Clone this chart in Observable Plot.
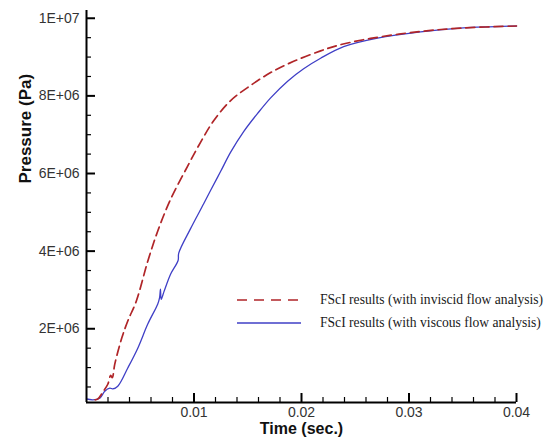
<!DOCTYPE html>
<html>
<head>
<meta charset="utf-8">
<script src="https://cdn.jsdelivr.net/npm/d3@7"></script>
<script src="https://cdn.jsdelivr.net/npm/@observablehq/plot@0.6"></script>
<style>
  html, body { margin: 0; padding: 0; background: #fff; }
  #wrap { position: relative; width: 549px; height: 442px; }
  #legend { position: absolute; left: 0; top: 0; font-family: "Liberation Serif", "Times New Roman", serif; font-size: 13.6px; color: #1a1a1a; }
  .row { position: absolute; display: flex; align-items: center; white-space: nowrap; }
  .row svg { margin-right: 19px; }
</style>
</head>
<body>
<div id="wrap"></div>
<script>
// ---- data ----
const seriesNames = ["FScI results (with inviscid flow analysis)", "FScI results (with viscous flow analysis)"];
const timeInviscid = [0.0008, 0.00105, 0.0015, 0.00198, 0.00225, 0.0024, 0.00263, 0.00328, 0.00384, 0.00463, 0.0057, 0.00663, 0.00783, 0.00941, 0.01062, 0.01183, 0.01341, 0.01527, 0.01713, 0.01927, 0.02178, 0.02336, 0.02642, 0.03107, 0.03507, 0.0400];
const pressInviscid = [0.17e6, 0.19e6, 0.36e6, 0.57e6, 0.80e6, 0.74e6, 1.09e6, 1.76e6, 2.20e6, 2.71e6, 3.74e6, 4.52e6, 5.34e6, 6.19e6, 6.81e6, 7.36e6, 7.88e6, 8.27e6, 8.60e6, 8.89e6, 9.16e6, 9.30e6, 9.48e6, 9.66e6, 9.75e6, 9.80e6];
const timeViscous = [0, 0.0006, 0.00124, 0.0017, 0.00217, 0.00244, 0.00291, 0.00384, 0.00477, 0.0057, 0.00663, 0.0068, 0.00688, 0.00695, 0.0072, 0.00783, 0.00852, 0.00858, 0.00968, 0.0109, 0.01155, 0.01247, 0.01341, 0.01462, 0.01592, 0.01713, 0.01871, 0.0202, 0.02178, 0.02392, 0.02707, 0.03107, 0.03507, 0.0400];
const pressViscous = [0.19e6, 0.17e6, 0.21e6, 0.39e6, 0.47e6, 0.45e6, 0.52e6, 0.99e6, 1.50e6, 2.12e6, 2.64e6, 2.80e6, 3.02e6, 2.76e6, 2.95e6, 3.41e6, 3.76e6, 3.95e6, 4.58e6, 5.22e6, 5.57e6, 6.05e6, 6.55e6, 7.08e6, 7.55e6, 7.95e6, 8.38e6, 8.70e6, 8.97e6, 9.27e6, 9.49e6, 9.65e6, 9.75e6, 9.80e6];
const xDomain = [0, 0.04];
const yDomain = [1e5, 1.02e7];
const xMajorTicks = [0.01, 0.02, 0.03, 0.04];
const xMinorTicks = [0.002, 0.004, 0.006, 0.008, 0.012, 0.014, 0.016, 0.018, 0.022, 0.024, 0.026, 0.028, 0.032, 0.034, 0.036, 0.038];
const yMajorTicks = [2e6, 4e6, 6e6, 8e6, 1e7];
const yTickLabels = ["2E+06", "4E+06", "6E+06", "8E+06", "1E+07"];
const yMinorTicks = [5e5, 1e6, 1.5e6, 2.5e6, 3e6, 3.5e6, 4.5e6, 5e6, 5.5e6, 6.5e6, 7e6, 7.5e6, 8.5e6, 9e6, 9.5e6];
const xLabel = "Time (sec.)";
const yLabel = "Pressure (Pa)";
const colors = ["#b02528", "#3f3fc6"];

const inviscid = timeInviscid.map((t, i) => ({t, p: pressInviscid[i]}));
const viscous = timeViscous.map((t, i) => ({t, p: pressViscous[i]}));

const W = 549, H = 442, ML = 86, MR = 33, MT = 10, MB = 40;
const frameW = W - ML - MR, frameH = H - MT - MB;
// tick lengths: pixels converted to data units of the scales
const yPerPx = (yDomain[1] - yDomain[0]) / frameH;
const xPerPx = (xDomain[1] - xDomain[0]) / frameW;
const majorLen = 9, minorLen = 5;
const tickFont = {fontSize: 14, fill: "#333", fontFamily: "Liberation Sans, Arial, sans-serif"};

const chart = Plot.plot({
  width: W, height: H,
  marginLeft: ML, marginRight: MR, marginTop: MT, marginBottom: MB,
  style: {fontFamily: "Liberation Sans, Arial, sans-serif", background: "#fff"},
  x: {domain: xDomain},
  y: {domain: yDomain},
  marks: [
    Plot.line(viscous, {x: "t", y: "p", stroke: colors[1], strokeWidth: 1.3, curve: "catmull-rom"}),
    Plot.line(inviscid, {x: "t", y: "p", stroke: colors[0], strokeWidth: 1.7, strokeDasharray: "9,5", curve: "catmull-rom"}),
    // inward ticks
    Plot.ruleX(xMajorTicks.map(v => ({v})), {x: "v", y1: () => yDomain[0], y2: () => yDomain[0] + majorLen * yPerPx, stroke: "#000", strokeWidth: 2}),
    Plot.ruleX(xMinorTicks.map(v => ({v})), {x: "v", y1: () => yDomain[0], y2: () => yDomain[0] + minorLen * yPerPx, stroke: "#000", strokeWidth: 1.2}),
    Plot.ruleY(yMajorTicks.map(v => ({v})), {y: "v", x1: () => xDomain[0], x2: () => xDomain[0] + majorLen * xPerPx, stroke: "#000", strokeWidth: 2}),
    Plot.ruleY(yMinorTicks.map(v => ({v})), {y: "v", x1: () => xDomain[0], x2: () => xDomain[0] + minorLen * xPerPx, stroke: "#000", strokeWidth: 1.2}),
    // tick labels
    Plot.axisX({ticks: xMajorTicks, tickSize: 0, tickPadding: 5, tickFormat: d => String(d), label: null, ...tickFont}),
    Plot.axisY({ticks: yMajorTicks, tickSize: 0, tickPadding: 7, tickFormat: d => yTickLabels[yMajorTicks.indexOf(d)], label: null, ...tickFont}),
    // axis lines
    Plot.ruleX([xDomain[0]], {stroke: "#000", strokeWidth: 2}),
    Plot.ruleY([yDomain[0]], {stroke: "#000", strokeWidth: 2}),
    // axis titles
    Plot.text([xLabel], {frameAnchor: "bottom", dy: 31, text: d => d, fontSize: 16, fontWeight: "bold", fill: "#111"}),
    Plot.text([yLabel], {frameAnchor: "left", dx: -61, dy: -23, rotate: -90, text: d => d, fontSize: 17, fontWeight: "bold", fill: "#111"})
  ]
});

const wrap = document.getElementById("wrap");
wrap.appendChild(chart);

// legend (inside the plot area)
const legend = document.createElement("div");
legend.id = "legend";
const rows = [
  {name: seriesNames[0], color: colors[0], dash: "10,7", top: 291},
  {name: seriesNames[1], color: colors[1], dash: null, top: 314}
];
rows.forEach(r => {
  const row = document.createElement("div");
  row.className = "row";
  row.style.left = "237px";
  row.style.top = r.top + "px";
  row.style.height = "18px";
  row.innerHTML = `<svg width="64" height="6"><line x1="0" y1="3" x2="64" y2="3" stroke="${r.color}" stroke-width="1.6" ${r.dash ? `stroke-dasharray="${r.dash}"` : ""}/></svg><span>${r.name}</span>`;
  legend.appendChild(row);
});
wrap.appendChild(legend);
</script>
</body>
</html>
